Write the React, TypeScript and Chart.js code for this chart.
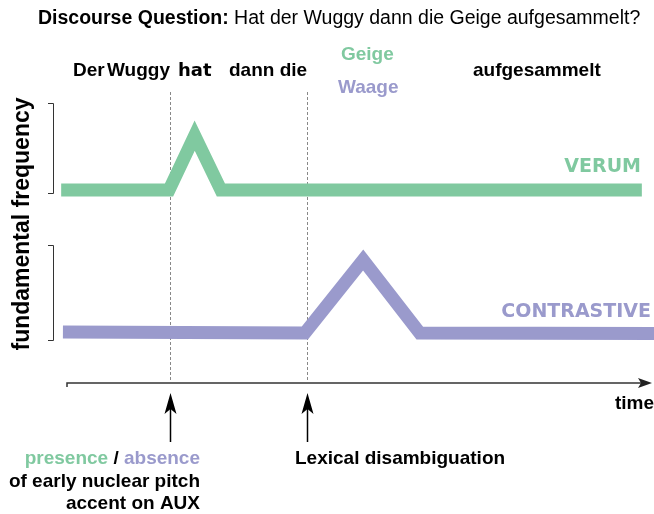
import React, { useEffect, useRef } from "react";
import { Chart, registerables } from "chart.js";

Chart.register(...registerables);

// Schematic pitch contours (time and f0 in arbitrary units, 0–100)
const TIME_VERUM = [-1.0, 17.5, 21.9, 26.4, 98.6];
const F0_VERUM = [66.3, 66.3, 85.0, 66.3, 66.3];
const TIME_CONTRASTIVE = [-0.7, 40.8, 50.8, 60.5, 101.2];
const F0_CONTRASTIVE = [17.5, 17.2, 42.3, 17.2, 17.0];
const WORD_BOUNDARIES = [17.6, 41.1];
const SERIES_LABELS = ["VERUM", "CONTRASTIVE"];
const WORDS = ["Der", "Wuggy", "hat", "dann die", "Geige", "Waage", "aufgesammelt"];
const TITLE_BOLD = "Discourse Question:";
const TITLE_TEXT = "Hat der Wuggy dann die Geige aufgesammelt?";
const Y_TITLE = "fundamental frequency";
const X_TITLE = "time";

const GREEN = "#80C9A0";
const PURPLE = "#9A9ACC";
const SANS = '"Liberation Sans", Arial, Helvetica, sans-serif';
const DEJAVU = '"DejaVu Sans", sans-serif';

function arrowHead(ctx: CanvasRenderingContext2D, tx: number, ty: number, dir: "up" | "right") {
  ctx.beginPath();
  if (dir === "up") {
    ctx.moveTo(tx, ty);
    ctx.lineTo(tx + 6, ty + 21);
    ctx.lineTo(tx, ty + 16);
    ctx.lineTo(tx - 6, ty + 21);
  } else {
    ctx.moveTo(tx, ty);
    ctx.lineTo(tx - 14, ty - 5);
    ctx.lineTo(tx - 11, ty);
    ctx.lineTo(tx - 14, ty + 5);
  }
  ctx.closePath();
  ctx.fill();
}

const annotations = {
  id: "annotations",
  beforeDatasetsDraw(chart: any) {
    const ctx = chart.ctx as CanvasRenderingContext2D;
    const xs = chart.scales.x;
    ctx.save();
    ctx.strokeStyle = "#888";
    ctx.lineWidth = 1;
    ctx.setLineDash([3, 2]);
    WORD_BOUNDARIES.forEach((b) => {
      const x = Math.round(xs.getPixelForValue(b)) + 0.5;
      ctx.beginPath();
      ctx.moveTo(x, 92);
      ctx.lineTo(x, 381);
      ctx.stroke();
    });
    ctx.restore();
  },
  afterDraw(chart: any) {
    const ctx = chart.ctx as CanvasRenderingContext2D;
    const xs = chart.scales.x;
    const area = chart.chartArea;
    ctx.save();
    ctx.textBaseline = "alphabetic";
    ctx.textAlign = "left";

    // Title
    ctx.fillStyle = "#000";
    ctx.font = `bold 19.5px ${SANS}`;
    ctx.fillText(TITLE_BOLD, 38, 24);
    const w = ctx.measureText(TITLE_BOLD + " ").width;
    ctx.font = `19.5px ${SANS}`;
    ctx.fillText(TITLE_TEXT, 38 + w, 24);

    // Words of the sentence
    ctx.font = `bold 19px ${SANS}`;
    ctx.fillText(WORDS[0], 73, 76);
    ctx.fillText(WORDS[1], 107, 76);
    ctx.fillText(WORDS[3], 229, 76);
    ctx.fillText(WORDS[6], 473, 76);
    ctx.fillStyle = GREEN;
    ctx.fillText(WORDS[4], 341, 60);
    ctx.fillStyle = PURPLE;
    ctx.fillText(WORDS[5], 338, 93);
    ctx.fillStyle = "#000";
    ctx.font = `bold 18px ${DEJAVU}`;
    ctx.fillText(WORDS[2], 178, 76);

    // Series labels
    ctx.textAlign = "right";
    ctx.font = `bold 19px ${DEJAVU}`;
    ctx.fillStyle = GREEN;
    ctx.fillText(SERIES_LABELS[0], 641, 172);
    ctx.fillStyle = PURPLE;
    ctx.fillText(SERIES_LABELS[1], 651, 317);

    // Brackets on the y side
    ctx.strokeStyle = "#333";
    ctx.lineWidth = 1;
    const bracket = (y0: number, y1: number) => {
      ctx.beginPath();
      ctx.moveTo(48, y0 + 0.5);
      ctx.lineTo(53.5, y0 + 0.5);
      ctx.lineTo(53.5, y1 + 0.5);
      ctx.lineTo(48, y1 + 0.5);
      ctx.stroke();
    };
    bracket(103, 193);
    bracket(245, 340);

    // y title
    ctx.save();
    ctx.translate(23, 224);
    ctx.rotate(-Math.PI / 2);
    ctx.textAlign = "center";
    ctx.textBaseline = "middle";
    ctx.fillStyle = "#000";
    ctx.font = `bold 23px ${SANS}`;
    ctx.fillText(Y_TITLE, 0, 0);
    ctx.restore();

    // time axis
    ctx.strokeStyle = "#333";
    ctx.fillStyle = "#222";
    ctx.lineWidth = 1.5;
    ctx.beginPath();
    ctx.moveTo(area.left, area.bottom + 4);
    ctx.lineTo(area.left, area.bottom);
    ctx.lineTo(area.right - 4, area.bottom);
    ctx.stroke();
    arrowHead(ctx, area.right + 2, area.bottom, "right");

    ctx.fillStyle = "#000";
    ctx.textAlign = "right";
    ctx.font = `bold 19px ${SANS}`;
    ctx.fillText(X_TITLE, 654, 409);

    // up arrows at word boundaries
    ctx.strokeStyle = "#000";
    ctx.lineWidth = 1.5;
    WORD_BOUNDARIES.forEach((b) => {
      const x = Math.round(xs.getPixelForValue(b)) + 0.5;
      ctx.beginPath();
      ctx.moveTo(x, 442);
      ctx.lineTo(x, 405);
      ctx.stroke();
      arrowHead(ctx, x, 393, "up");
    });

    // bottom notes
    ctx.font = `bold 19px ${SANS}`;
    ctx.textAlign = "left";
    ctx.fillText("Lexical disambiguation", 295, 464);
    ctx.textAlign = "right";
    ctx.fillText("of early nuclear pitch", 200, 487);
    ctx.fillText("accent on AUX", 200, 509);
    const abs = "absence";
    const sl = " / ";
    const wAbs = ctx.measureText(abs).width;
    const wSl = ctx.measureText(sl).width;
    ctx.fillStyle = PURPLE;
    ctx.fillText(abs, 200, 464);
    ctx.fillStyle = "#000";
    ctx.fillText(sl, 200 - wAbs, 464);
    ctx.fillStyle = GREEN;
    ctx.fillText("presence", 200 - wAbs - wSl, 464);
    ctx.restore();
  },
};

export default function App() {
  const ref = useRef<HTMLCanvasElement | null>(null);
  useEffect(() => {
    document.body.style.margin = "0";
    const canvas = ref.current;
    if (!canvas) return;
    const chart = new Chart(canvas, {
      type: "line",
      data: {
        datasets: [
          {
            label: SERIES_LABELS[0],
            data: TIME_VERUM.map((t, i) => ({ x: t, y: F0_VERUM[i] })),
            borderColor: GREEN,
            borderWidth: 13,
            pointRadius: 0,
            tension: 0,
            clip: false,
            borderJoinStyle: "miter",
            borderCapStyle: "butt",
          },
          {
            label: SERIES_LABELS[1],
            data: TIME_CONTRASTIVE.map((t, i) => ({ x: t, y: F0_CONTRASTIVE[i] })),
            borderColor: PURPLE,
            borderWidth: 13,
            pointRadius: 0,
            tension: 0,
            clip: false,
            borderJoinStyle: "miter",
            borderCapStyle: "butt",
          },
        ],
      },
      options: {
        responsive: false,
        animation: false,
        layout: { padding: { left: 67, right: 4, top: 92, bottom: 131 } },
        scales: {
          x: { type: "linear", min: 0, max: 100, display: false },
          y: { type: "linear", min: 0, max: 100, display: false },
        },
        plugins: { legend: { display: false }, tooltip: { enabled: false } },
      },
      plugins: [annotations],
    } as any);
    return () => chart.destroy();
  }, []);
  return <canvas ref={ref} width={654} height={514} style={{ display: "block" }} />;
}
